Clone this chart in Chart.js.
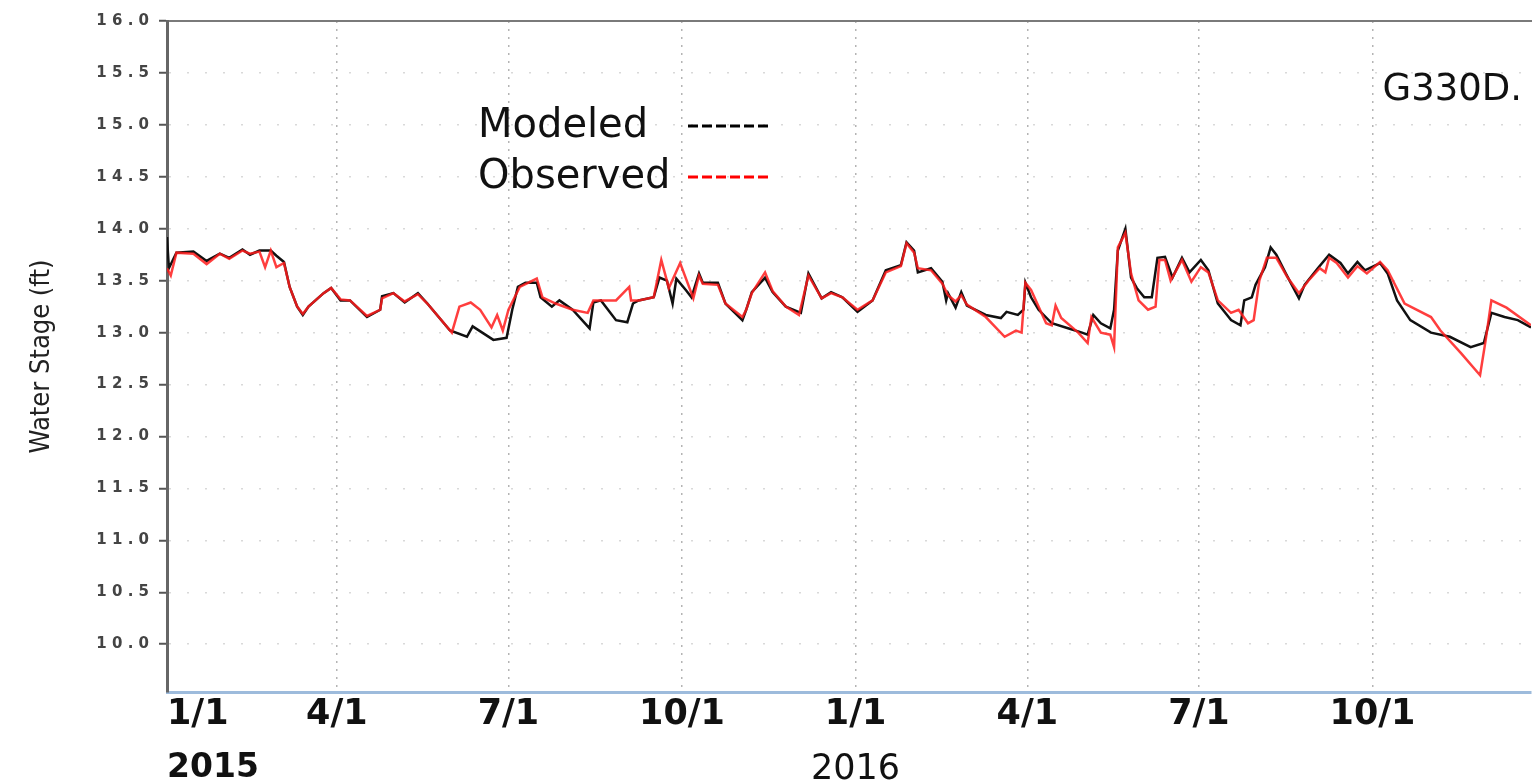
<!DOCTYPE html>
<html>
<head>
<meta charset="utf-8">
<title>G330D water stage</title>
<script src="https://cdn.jsdelivr.net/npm/chart.js@4/dist/chart.umd.min.js"></script>
<style>
  html, body { margin: 0; padding: 0; background: #fff; }
  #wrap { position: relative; width: 1533px; height: 782px; }
</style>
</head>
<body>
<div id="wrap"><canvas id="stage-chart"></canvas></div>
<script>
// days counted from 1/1/2015
const modeledDays = [0, 1, 5, 14, 21, 28, 33, 40, 44, 49, 55, 58, 62, 65, 69, 72, 75, 83, 87, 92, 97,
    106, 113, 114, 120, 126, 133, 138, 150, 159, 162, 173, 180, 183, 186, 190, 196, 198, 204, 208, 215,
    224, 226, 230, 238, 244, 247, 250, 258, 261, 265, 268, 270, 275, 278, 282, 284, 292, 296, 305, 307,
    310, 317, 321, 328, 336, 340, 347, 352, 358, 366, 374, 381, 389, 392, 396, 398, 405, 411, 413, 414,
    418, 421, 424, 434, 442, 445, 451, 454, 455, 458, 462, 469, 478, 485, 488, 491, 495, 500, 502, 504,
    508, 511, 514, 518, 522, 525, 529, 533, 538, 542, 548, 552, 557, 564, 569, 571, 575, 577, 582, 585,
    588, 593, 600, 603, 610, 616, 622, 626, 631, 635, 643, 647, 652, 659, 670, 680, 691, 698, 702, 709,
    716, 723];
const modeledStage = [13.92, 13.62, 13.77, 13.78, 13.69, 13.76, 13.72, 13.80, 13.75, 13.79, 13.79, 13.74, 13.68, 13.44, 13.25, 13.17, 13.25, 13.38, 13.43, 13.31, 13.31,
    13.15, 13.22, 13.35, 13.38, 13.29, 13.38, 13.28, 13.02, 12.96, 13.06, 12.93, 12.95, 13.22, 13.44, 13.48, 13.48, 13.34, 13.25, 13.31, 13.22,
    13.04, 13.29, 13.31, 13.12, 13.10, 13.28, 13.31, 13.34, 13.53, 13.50, 13.28, 13.52, 13.41, 13.34, 13.57, 13.48, 13.48, 13.28, 13.12, 13.22,
    13.39, 13.53, 13.39, 13.25, 13.19, 13.57, 13.33, 13.39, 13.34, 13.20, 13.31, 13.60, 13.65, 13.87, 13.79, 13.58, 13.62, 13.49, 13.31, 13.38,
    13.24, 13.39, 13.26, 13.17, 13.14, 13.20, 13.17, 13.22, 13.48, 13.34, 13.22, 13.09, 13.04, 13.00, 12.98, 13.17, 13.09, 13.04, 13.22, 13.79,
    14.00, 13.53, 13.43, 13.34, 13.34, 13.72, 13.73, 13.53, 13.72, 13.58, 13.70, 13.60, 13.28, 13.12, 13.07, 13.31, 13.34, 13.46, 13.63, 13.82,
    13.75, 13.57, 13.33, 13.46, 13.62, 13.75, 13.67, 13.57, 13.68, 13.60, 13.67, 13.57, 13.31, 13.12, 13.00, 12.96, 12.86, 12.90, 13.19, 13.15,
    13.12, 13.05];

const observedDays = [0, 2, 5, 14, 21, 28, 33, 40, 44, 49, 52, 55, 58, 62, 65, 69, 72, 75, 83, 87, 92,
    97, 106, 113, 114, 120, 126, 133, 138, 151, 155, 161, 166, 172, 175, 178, 181, 187, 196, 199, 206,
    215, 223, 226, 238, 245, 246, 250, 258, 262, 266, 272, 279, 282, 284, 292, 296, 305, 307, 310, 317,
    321, 328, 335, 340, 347, 352, 358, 366, 374, 381, 389, 392, 396, 398, 405, 411, 414, 418, 421, 424,
    434, 444, 450, 453, 455, 458, 466, 469, 471, 474, 483, 488, 490, 495, 500, 502, 504, 508, 511, 515,
    520, 524, 526, 529, 532, 538, 543, 548, 552, 557, 564, 568, 573, 576, 579, 583, 588, 594, 600, 605,
    611, 614, 616, 620, 626, 631, 636, 643, 647, 656, 670, 675, 686, 696, 699, 702, 710, 723];
const observedStage = [13.62, 13.55, 13.77, 13.76, 13.66, 13.76, 13.71, 13.79, 13.76, 13.78, 13.63, 13.79, 13.63, 13.67, 13.44, 13.25, 13.18, 13.25, 13.38, 13.43, 13.32,
    13.31, 13.16, 13.22, 13.33, 13.38, 13.30, 13.37, 13.28, 13.00, 13.25, 13.29, 13.22, 13.05, 13.17, 13.02, 13.22, 13.44, 13.52, 13.34, 13.28,
    13.22, 13.19, 13.31, 13.31, 13.44, 13.31, 13.31, 13.34, 13.70, 13.43, 13.67, 13.33, 13.55, 13.47, 13.46, 13.28, 13.15, 13.22, 13.38, 13.58,
    13.40, 13.25, 13.17, 13.55, 13.33, 13.38, 13.34, 13.22, 13.31, 13.58, 13.64, 13.86, 13.77, 13.62, 13.60, 13.47, 13.36, 13.30, 13.36, 13.27,
    13.15, 12.96, 13.02, 13.00, 13.48, 13.41, 13.09, 13.07, 13.26, 13.14, 13.00, 12.90, 13.15, 13.00, 12.98, 12.86, 13.82, 13.96, 13.57, 13.31,
    13.22, 13.25, 13.70, 13.70, 13.50, 13.70, 13.49, 13.63, 13.58, 13.31, 13.19, 13.22, 13.09, 13.12, 13.50, 13.72, 13.72, 13.53, 13.38, 13.50,
    13.62, 13.58, 13.72, 13.67, 13.53, 13.64, 13.57, 13.68, 13.60, 13.28, 13.15, 13.02, 12.80, 12.59, 12.93, 13.31, 13.24, 13.07];

const quarterDays = [0, 90, 181, 273, 365, 456, 547, 639];
const quarterLabels = ['1/1', '4/1', '7/1', '10/1', '1/1', '4/1', '7/1', '10/1'];
const yearDays = [0, 365];
const yearLabels = ['2015', '2016'];
const yTickValues = [10.0, 10.5, 11.0, 11.5, 12.0, 12.5, 13.0, 13.5, 14.0, 14.5, 15.0, 15.5, 16.0];
const xMin = 0, xMax = 723;
const yMin = 9.54, yMax = 16.0;
const stationName = 'G330D.';

const toPoints = (xs, ys) => xs.map((x, i) => ({ x: x, y: ys[i] }));

// legend drawn inside the plot, text first then a dashed sample
const insideLegend = {
    id: 'insideLegend',
    afterDraw: chart => {
        const { ctx } = chart;
        const items = ['Modeled', 'Observed'].map(name => chart.data.datasets.find(d => d.label === name));
        ctx.save();
        ctx.font = '40px "DejaVu Sans"';
        ctx.textAlign = 'left';
        ctx.textBaseline = 'alphabetic';
        items.forEach((ds, i) => {
            const y = 137 + i * 51;
            ctx.fillStyle = '#111';
            ctx.fillText(ds.label, 478, y);
            ctx.beginPath();
            ctx.setLineDash([10, 4]);
            ctx.lineWidth = 3;
            ctx.strokeStyle = ds.legendColor;
            ctx.moveTo(688, y - 11);
            ctx.lineTo(772, y - 11);
            ctx.stroke();
        });
        ctx.setLineDash([]);
        ctx.font = '37px "DejaVu Sans"';
        ctx.textAlign = 'right';
        ctx.fillStyle = '#111';
        ctx.fillText(stationName, 1522, 100);
        ctx.restore();
    }
};

new Chart(document.getElementById('stage-chart'), {
    type: 'line',
    data: {
        datasets: [{
            label: 'Observed',
            data: toPoints(observedDays, observedStage),
            borderColor: 'rgba(255, 28, 28, 0.85)',
            legendColor: '#ff0000',
            borderWidth: 2.5,
            pointRadius: 0,
            tension: 0,
            fill: false
        }, {
            label: 'Modeled',
            data: toPoints(modeledDays, modeledStage),
            borderColor: '#111111',
            legendColor: '#000000',
            borderWidth: 2.5,
            pointRadius: 0,
            tension: 0,
            fill: false
        }]
    },
    options: {
        responsive: true,
        maintainAspectRatio: false,
        animation: false,
        layout: { padding: { top: 21, right: 0, bottom: 0, left: 0 } },
        plugins: {
            legend: { display: false },
            tooltip: { enabled: false }
        },
        scales: {
            x: {
                type: 'linear',
                position: 'bottom',
                weight: 0,
                min: xMin,
                max: xMax,
                afterBuildTicks: scale => {
                    scale.ticks = quarterDays.concat([xMax]).map(v => ({ value: v }));
                },
                afterFit: scale => { scale.height = 57; },
                ticks: {
                    align: 'inner',
                    autoSkip: false,
                    maxRotation: 0,
                    padding: 2,
                    color: '#111',
                    font: { family: 'DejaVu Sans', size: 35, weight: 'bold' },
                    callback: (value, index) => quarterLabels[index] || ''
                },
                grid: {
                    drawTicks: false,
                    lineWidth: 1.5,
                    color: c => c.index < quarterDays.length ? '#b4b4b4' : 'rgba(0,0,0,0)'
                },
                border: { display: true, color: '#9dbbdc', width: 3, dash: [2, 6] }
            },
            years: {
                type: 'linear',
                position: 'bottom',
                weight: 1,
                min: xMin,
                max: xMax,
                afterBuildTicks: scale => {
                    scale.ticks = yearDays.concat([xMax]).map(v => ({ value: v }));
                },
                afterFit: scale => { scale.height = 33; },
                ticks: {
                    align: 'inner',
                    autoSkip: false,
                    maxRotation: 0,
                    padding: 0,
                    color: '#111',
                    font: c => ({
                        family: 'DejaVu Sans',
                        size: c.index === 0 ? 33 : 35,
                        weight: c.index === 0 ? 'bold' : 'normal'
                    }),
                    callback: (value, index) => yearLabels[index] || ''
                },
                grid: { display: false, drawTicks: false },
                border: { display: false }
            },
            frame: {
                type: 'linear',
                position: 'top',
                min: xMin,
                max: xMax,
                afterFit: scale => { scale.height = 0; },
                ticks: { display: false },
                grid: { display: false, drawTicks: false },
                border: { display: true, color: '#7a7a7a', width: 2 }
            },
            y: {
                type: 'linear',
                min: yMin,
                max: yMax,
                afterBuildTicks: scale => {
                    scale.ticks = yTickValues.map(v => ({ value: v }));
                },
                afterFit: scale => { scale.width = 167; },
                ticks: {
                    padding: 10,
                    color: '#444',
                    font: { family: 'DejaVu Sans', size: 15, weight: 'bold' },
                    callback: value => value.toFixed(1).split('').join(' ')
                },
                grid: {
                    color: '#d9d9d9',
                    lineWidth: 1.5,
                    tickLength: 8,
                    tickColor: '#555',
                    tickWidth: 2
                },
                border: { display: true, color: '#666', width: 3, dash: [2, 16] },
                title: {
                    display: true,
                    text: 'Water Stage (ft)',
                    color: '#222',
                    padding: { top: 26, bottom: 0 },
                    font: { family: '"DejaVu Sans Condensed", "Liberation Sans Narrow", "DejaVu Sans"', size: 27 }
                }
            }
        }
    },
    plugins: [insideLegend]
});
</script>
</body>
</html>
